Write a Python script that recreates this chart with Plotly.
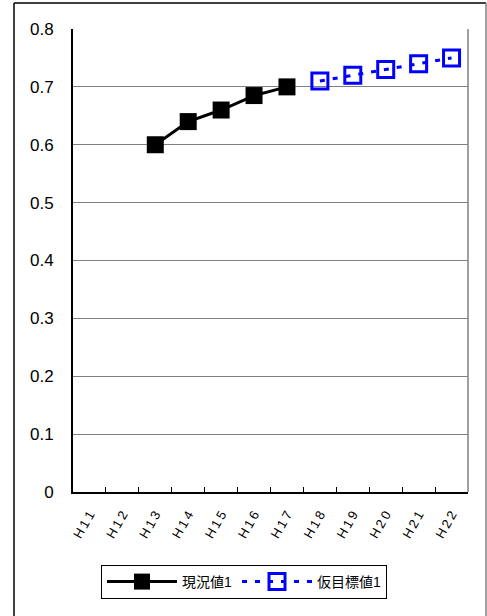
import plotly.graph_objects as go

# Fiscal-year categories on the x axis
years = ["H11", "H12", "H13", "H14", "H15", "H16", "H17", "H18", "H19", "H20", "H21", "H22"]

# Observed values (現況値1)
actual_years = ["H13", "H14", "H15", "H16", "H17"]
actual_vals = [0.60, 0.64, 0.66, 0.685, 0.70]

# Provisional targets (仮目標値1)
target_years = ["H18", "H19", "H20", "H21", "H22"]
target_vals = [0.71, 0.72, 0.73, 0.74, 0.75]

y_ticks = [0, 0.1, 0.2, 0.3, 0.4, 0.5, 0.6, 0.7, 0.8]

FONT = "Liberation Sans, Arial, Noto Sans CJK JP, sans-serif"

W, H = 487, 616
L, R, T, B = 73, 19, 29, 124
PW, PH = W - L - R, H - T - B


def px_x(px):
    return (px - L) / PW


def px_y(py):
    return (H - B - py) / PH


# widely spaced year labels
year_text = ["\u2009".join(y) for y in years]

fig = go.Figure()

fig.add_trace(go.Scatter(
    x=actual_years, y=actual_vals, name="現況値1",
    mode="lines+markers",
    line=dict(color="black", width=3),
    marker=dict(symbol="square", size=17, color="black"),
))

fig.add_trace(go.Scatter(
    x=target_years, y=target_vals, name="仮目標値1",
    mode="lines+markers",
    line=dict(color="#0000FF", width=3, dash="5px,8px"),
    marker=dict(symbol="square-open", size=16, color="#0000FF",
                line=dict(width=3, color="#0000FF")),
))

# Outer frame of the chart area
frame = [
    (px_x(14), px_y(3), px_x(14), px_y(640), "black"),
    (px_x(14), px_y(3), px_x(486), px_y(3), "black"),
    (px_x(486), px_y(3), px_x(486), px_y(640), "#808080"),
]
shapes = [dict(type="line", xref="paper", yref="paper", x0=a, y0=b, x1=c, y1=d,
               line=dict(color=col, width=1.5)) for a, b, c, d, col in frame]
# Plot-area border on the right side
shapes.append(dict(type="line", xref="paper", yref="paper", x0=1, y0=0, x1=1, y1=1,
                   line=dict(color="#808080", width=1.5)))

fig.update_layout(
    width=W, height=H,
    margin=dict(l=L, r=R, t=T, b=B),
    paper_bgcolor="white", plot_bgcolor="white",
    font=dict(family=FONT, size=16, color="black"),
    showlegend=True,
    legend=dict(
        orientation="h", x=px_x(101), y=px_y(565), xanchor="left", yanchor="top",
        bordercolor="black", borderwidth=1, itemwidth=70,
        font=dict(family=FONT, size=14),
        tracegroupgap=0, itemclick=False,
    ),
    shapes=shapes,
    xaxis=dict(
        type="category", categoryorder="array", categoryarray=years,
        range=[-0.5, len(years) - 0.5],
        tickmode="array", tickvals=years, ticktext=year_text,
        tickangle=-60, tickfont=dict(family=FONT, size=13),
        ticks="inside", tickson="boundaries", ticklen=5, tickcolor="black", tickwidth=1,
        ticklabelstandoff=8,
        showline=True, linecolor="black", linewidth=2,
        showgrid=False, zeroline=False,
    ),
    yaxis=dict(
        range=[0, 0.8], tickvals=y_ticks,
        tickfont=dict(family=FONT, size=17),
        showline=True, linecolor="black", linewidth=2,
        showgrid=True, gridcolor="#808080", gridwidth=1,
        zeroline=False, ticks="", ticklabelstandoff=14,
    ),
)

fig.write_html("out.html")
